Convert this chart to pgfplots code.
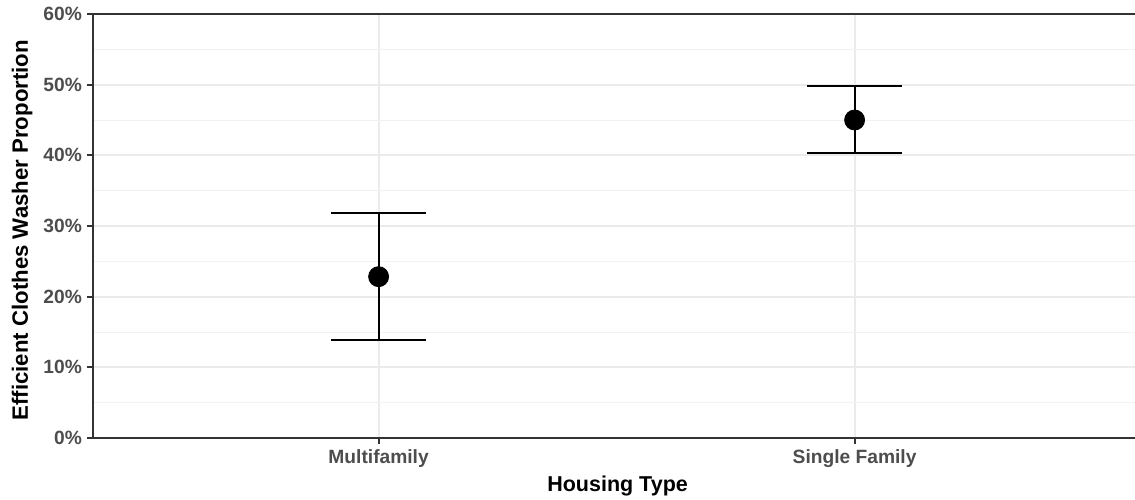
\documentclass[border=0pt]{standalone}
\usepackage{pgfplots}
\pgfplotsset{compat=1.18}
\usepackage{fontspec}
\setmainfont{Liberation Sans}
\definecolor{axiscol}{HTML}{333333}
\definecolor{ticktext}{HTML}{4D4D4D}
\definecolor{gridmajor}{HTML}{EBEBEB}
\definecolor{gridminor}{HTML}{F2F2F2}
\begin{document}
\begin{tikzpicture}
\begin{axis}[
  scale only axis,
  width=521pt, height=212pt,
  xmin=0.4, xmax=2.589,
  ymin=0, ymax=60,
  xtick={1,2},
  xticklabels={Multifamily,Single Family},
  ytick={0,10,...,60},
  yticklabels={0\%,10\%,20\%,30\%,40\%,50\%,60\%},
  minor y tick num=1,
  xmajorgrids, ymajorgrids, yminorgrids,
  major grid style={gridmajor, line width=0.9pt},
  minor grid style={gridminor, line width=0.5pt},
  axis line style={draw=none},
  tick align=outside,
  major tick length=3pt,
  minor tick length=0pt,
  tick style={axiscol, line width=1pt},
  xtick pos=bottom, ytick pos=left,
  ticklabel style={font=\fontsize{9.6}{11}\selectfont\bfseries, text=ticktext},
  yticklabel style={anchor=east, inner sep=0pt, xshift=-2.35pt},
  xticklabel style={anchor=base, inner sep=0pt, yshift=-9.6pt},
  xlabel={Housing Type},
  ylabel={Efficient Clothes Washer Proportion},
  label style={text=black},
  xlabel style={font=\fontsize{10.75}{13}\selectfont\bfseries, at={(axis description cs:0.5034,0)}, anchor=base, inner sep=0pt, yshift=-26.85pt},
  ylabel style={font=\fontsize{11.1}{13}\selectfont\bfseries, at={(axis description cs:0,0.49)}, anchor=base, inner sep=0pt, yshift=32.5pt},
  clip=false,
]
% estimates with their interval bounds
\addplot[only marks, mark=*, mark size=5pt, black,
  error bars/.cd, y dir=both, y explicit,
  error bar style={line width=1pt, black},
  error mark options={black, line width=1pt, mark size=23.75pt, rotate=90}]
  coordinates {
    (1,22.83) += (0,8.97) -= (0,8.96)
    (2,45.00) += (0,4.86) -= (0,4.72)
  };
% panel outline: left, top and bottom
\draw[axiscol, line width=1pt] (rel axis cs:1,1) -- (rel axis cs:0,1) -- (rel axis cs:0,0) -- (rel axis cs:1,0);
\coordinate (ll) at (rel axis cs:0,0);
\coordinate (ur) at (rel axis cs:1,1);
\end{axis}
\pgfresetboundingbox
\path ([shift={(-46.5pt,-30.5pt)}]ll) rectangle ([shift={(0pt,7pt)}]ur);
\end{tikzpicture}
\end{document}
